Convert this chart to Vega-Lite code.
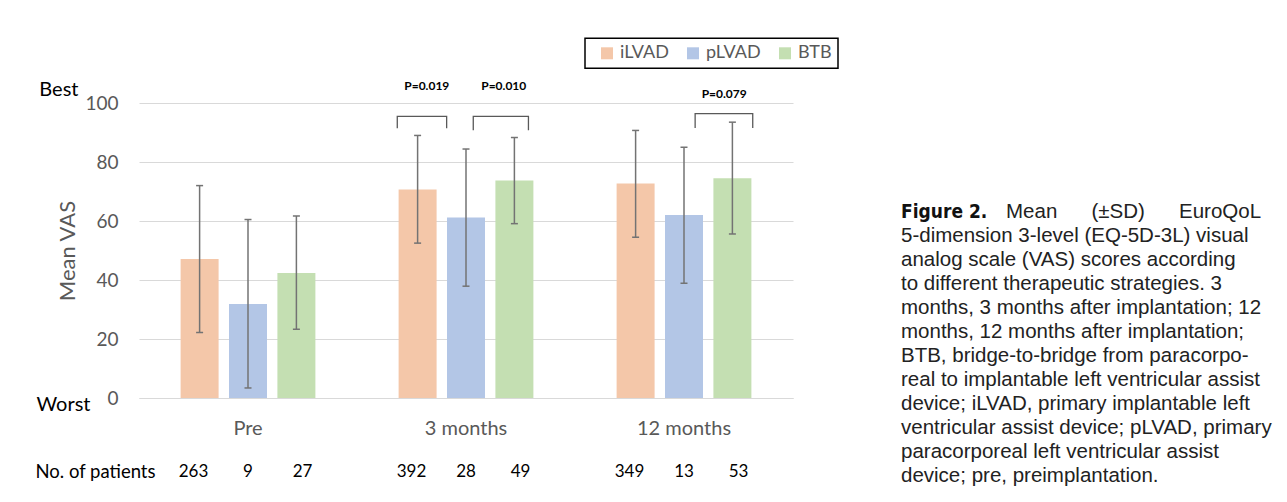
{
  "$schema": "https://vega.github.io/schema/vega-lite/v6.json",
  "padding": {"left": 34, "top": 37, "right": 5, "bottom": 5},
  "background": "white",
  "spacing": 108,
  "config": {
    "view": {"stroke": null},
    "font": "Lato",
    "axis": {"labelFont": "Lato", "titleFont": "Lato"},
    "legend": {"strokeWidth": 1.5}
  },
  "datasets": {
    "vas": [
      {"period": "Pre", "group": "iLVAD", "mean": 47.1, "lo": 22.2, "hi": 72.0, "n": "263"},
      {"period": "Pre", "group": "pLVAD", "mean": 31.9, "lo": 3.4, "hi": 60.5, "n": "9"},
      {"period": "Pre", "group": "BTB", "mean": 42.4, "lo": 23.3, "hi": 61.7, "n": "27"},
      {"period": "3 months", "group": "iLVAD", "mean": 70.7, "lo": 52.5, "hi": 89.0, "n": "392"},
      {"period": "3 months", "group": "pLVAD", "mean": 61.2, "lo": 37.9, "hi": 84.4, "n": "28"},
      {"period": "3 months", "group": "BTB", "mean": 73.7, "lo": 59.1, "hi": 88.3, "n": "49"},
      {"period": "12 months", "group": "iLVAD", "mean": 72.7, "lo": 54.5, "hi": 90.7, "n": "349"},
      {"period": "12 months", "group": "pLVAD", "mean": 62.0, "lo": 38.9, "hi": 85.0, "n": "13"},
      {"period": "12 months", "group": "BTB", "mean": 74.5, "lo": 55.6, "hi": 93.5, "n": "53"}
    ],
    "brackets": [
      {"id": "b1", "period": "3 months", "slot": 0.08, "y": 91.4, "k": 1},
      {"id": "b1", "period": "3 months", "slot": 0.08, "y": 95.5, "k": 2},
      {"id": "b1", "period": "3 months", "slot": 1.10, "y": 95.5, "k": 3},
      {"id": "b1", "period": "3 months", "slot": 1.10, "y": 91.4, "k": 4},
      {"id": "b2", "period": "3 months", "slot": 1.65, "y": 90.8, "k": 1},
      {"id": "b2", "period": "3 months", "slot": 1.65, "y": 95.5, "k": 2},
      {"id": "b2", "period": "3 months", "slot": 2.79, "y": 95.5, "k": 3},
      {"id": "b2", "period": "3 months", "slot": 2.79, "y": 90.8, "k": 4},
      {"id": "b3", "period": "12 months", "slot": 1.73, "y": 91.5, "k": 1},
      {"id": "b3", "period": "12 months", "slot": 1.73, "y": 96.4, "k": 2},
      {"id": "b3", "period": "12 months", "slot": 2.92, "y": 96.4, "k": 3},
      {"id": "b3", "period": "12 months", "slot": 2.92, "y": 91.5, "k": 4}
    ],
    "plabels": [
      {"period": "3 months", "slot": 0.69, "label": "P=0.019", "y": 105.9},
      {"period": "3 months", "slot": 2.28, "label": "P=0.010", "y": 105.9},
      {"period": "12 months", "slot": 2.33, "label": "P=0.079", "y": 103.1}
    ],
    "caption": [
      {"line": 2, "text": "5-dimension 3-level (EQ-5D-3L) visual"},
      {"line": 3, "text": "analog scale (VAS) scores according"},
      {"line": 4, "text": "to different therapeutic strategies. 3"},
      {"line": 5, "text": "months, 3 months after implantation; 12"},
      {"line": 6, "text": "months, 12 months after implantation;"},
      {"line": 7, "text": "BTB, bridge-to-bridge from paracorpo-"},
      {"line": 8, "text": "real to implantable left ventricular assist"},
      {"line": 9, "text": "device; iLVAD, primary implantable left"},
      {"line": 10, "text": "ventricular assist device; pLVAD, primary"},
      {"line": 11, "text": "paracorporeal left ventricular assist"},
      {"line": 12, "text": "device; pre, preimplantation."}
    ],
    "captionHead": [
      {"line": 1, "text": "Figure 2."}
    ],
    "captionHeadRest": [
      {"line": 1, "text": "Mean\u00a0\u00a0\u00a0\u00a0\u00a0\u00a0(±SD)\u00a0\u00a0\u00a0\u00a0\u00a0\u00a0EuroQoL"}
    ]
  },
  "hconcat": [
    {
      "width": 654,
      "height": 295,
      "layer": [
        {
          "layer": [
            {
              "data": {"name": "vas"},
              "mark": {"type": "bar"},
              "encoding": {
                "x": {
                  "field": "period", "type": "nominal", "sort": ["Pre", "3 months", "12 months"],
                  "scale": {"paddingInner": 0.334, "paddingOuter": 0.167},
                  "axis": {"title": null, "labelAngle": 0, "labelFontSize": 20, "labelColor": "#595959", "labelPadding": 20, "ticks": false, "domainColor": "#d9d9d9", "domainWidth": 1}
                },
                "xOffset": {
                  "field": "group", "type": "nominal", "sort": ["iLVAD", "pLVAD", "BTB"],
                  "scale": {"type": "band", "paddingInner": 0.215, "paddingOuter": 0.1075}
                },
                "y": {
                  "field": "mean", "type": "quantitative", "title": "Mean VAS",
                  "scale": {"domain": [0, 100], "nice": false},
                  "axis": {"orient": "left", "title": "Mean VAS", "values": [0, 20, 40, 60, 80, 100], "domain": false, "ticks": false, "grid": true, "gridColor": "#d9d9d9", "gridWidth": 1, "labelFontSize": 19, "labelColor": "#595959", "labelPadding": 21, "titleFontSize": 22, "titleColor": "#595959", "titleFontWeight": "normal", "titlePadding": 5}
                },
                "color": {
                  "field": "group", "type": "nominal",
                  "scale": {"domain": ["iLVAD", "pLVAD", "BTB"], "range": ["#F4C7A9", "#B3C6E6", "#C4DFB2"]},
                  "legend": {
                    "title": null, "orient": "none", "legendX": 446, "legendY": -64.7, "direction": "horizontal",
                    "strokeColor": "black", "padding": 6, "symbolType": "square", "symbolSize": 144,
                    "symbolStrokeWidth": 0, "symbolOffset": 7, "labelOffset": 4, "columnPadding": 8,
                    "labelFontSize": 18, "labelColor": "#595959", "labelFont": "Lato"
                  }
                }
              }
            },
            {
              "data": {"name": "vas"},
              "mark": {"type": "rule", "color": "#737373", "strokeWidth": 1.5},
              "encoding": {
                "x": {"field": "period", "type": "nominal", "sort": ["Pre", "3 months", "12 months"]},
                "xOffset": {"field": "group", "type": "nominal", "sort": ["iLVAD", "pLVAD", "BTB"], "scale": {"type": "band", "paddingInner": 0.215, "paddingOuter": 0.1075}},
                "y": {"field": "lo", "type": "quantitative", "title": "Mean VAS"},
                "y2": {"field": "hi"}
              }
            },
            {
              "data": {"name": "vas"},
              "mark": {"type": "point", "shape": "stroke", "size": 49, "color": "#737373", "strokeWidth": 1.5, "filled": false, "opacity": 1},
              "encoding": {
                "x": {"field": "period", "type": "nominal", "sort": ["Pre", "3 months", "12 months"]},
                "xOffset": {"field": "group", "type": "nominal", "sort": ["iLVAD", "pLVAD", "BTB"], "scale": {"type": "band", "paddingInner": 0.215, "paddingOuter": 0.1075}},
                "y": {"field": "lo", "type": "quantitative", "title": "Mean VAS"}
              }
            },
            {
              "data": {"name": "vas"},
              "mark": {"type": "point", "shape": "stroke", "size": 49, "color": "#737373", "strokeWidth": 1.5, "filled": false, "opacity": 1},
              "encoding": {
                "x": {"field": "period", "type": "nominal", "sort": ["Pre", "3 months", "12 months"]},
                "xOffset": {"field": "group", "type": "nominal", "sort": ["iLVAD", "pLVAD", "BTB"], "scale": {"type": "band", "paddingInner": 0.215, "paddingOuter": 0.1075}},
                "y": {"field": "hi", "type": "quantitative", "title": "Mean VAS"}
              }
            },
            {
              "layer": [
                {
                  "data": {"name": "brackets"},
                  "mark": {"type": "line", "color": "#595959", "strokeWidth": 1.3},
                  "encoding": {
                    "x": {"field": "period", "type": "nominal", "sort": ["Pre", "3 months", "12 months"]},
                    "xOffset": {"field": "slot", "type": "quantitative", "scale": {"domain": [0, 3], "range": [0, 145.2], "zero": false, "nice": false}},
                    "y": {"field": "y", "type": "quantitative", "title": "Mean VAS"},
                    "detail": {"field": "id"},
                    "order": {"field": "k", "type": "quantitative"}
                  }
                },
                {
                  "data": {"name": "plabels"},
                  "mark": {"type": "text", "fontWeight": "bold", "fontSize": 12, "color": "black", "font": "Lato"},
                  "encoding": {
                    "x": {"field": "period", "type": "nominal", "sort": ["Pre", "3 months", "12 months"]},
                    "xOffset": {"field": "slot", "type": "quantitative"},
                    "y": {"field": "y", "type": "quantitative", "title": "Mean VAS"},
                    "text": {"field": "label"}
                  }
                }
              ]
            }
          ],
          "resolve": {"scale": {"xOffset": "independent"}}
        },
        {
          "data": {"name": "vas"},
          "mark": {"type": "text", "fontSize": 17, "color": "black", "font": "Lato"},
          "encoding": {
            "x": {"field": "period", "type": "nominal", "sort": ["Pre", "3 months", "12 months"]},
            "xOffset": {"field": "group", "type": "nominal", "sort": ["iLVAD", "pLVAD", "BTB"], "scale": {"type": "point", "padding": 0.332}},
            "y": {
              "datum": -25, "type": "quantitative",
              "scale": {"domain": [-25, 100], "range": [368.75, 0], "nice": false, "zero": false},
              "axis": {
                "orient": "left", "title": null, "values": [100, 0, -25],
                "labelExpr": "datum.value == 100 ? 'Best' : (datum.value == 0 ? 'Worst' : 'No. of patients')",
                "domain": false, "ticks": false, "grid": false,
                "labelColor": "black", "labelFont": "Lato",
                "labelFontSize": {"condition": {"test": "datum.value == -25", "value": 18.5}, "value": 20},
                "labelAlign": "right", "labelFlush": false, "labelOverlap": false, "labelBound": false,
                "labelPadding": {"condition": [{"test": "datum.value == 100", "value": 61}, {"test": "datum.value == 0", "value": 49}], "value": -16},
                "labelOffset": {"condition": [{"test": "datum.value == 100", "value": -14}, {"test": "datum.value == 0", "value": 6}], "value": 0}
              }
            },
            "text": {"field": "n"}
          }
        }
      ],
      "resolve": {"scale": {"y": "independent", "xOffset": "independent"}, "axis": {"y": "independent"}}
    },
    {
      "width": 370,
      "height": 295,
      "layer": [
        {
          "data": {"name": "captionHead"},
          "mark": {"type": "text", "align": "left", "baseline": "middle", "font": "Liberation Sans Narrow, DejaVu Sans Condensed, Roboto Condensed, Liberation Sans", "fontWeight": "bold", "fontSize": 19, "color": "#111"},
          "encoding": {
            "x": {"datum": 0, "type": "quantitative", "scale": {"domain": [0, 370]}, "axis": null},
            "y": {"field": "line", "type": "quantitative", "scale": {"domain": [1, 12], "range": [109.3, 373.3]}, "axis": null},
            "text": {"field": "text"}
          }
        },
        {
          "data": {"name": "captionHeadRest"},
          "mark": {"type": "text", "align": "left", "baseline": "middle", "font": "Liberation Sans", "fontSize": 20.5, "color": "#222", "dx": 105},
          "encoding": {
            "x": {"datum": 0, "type": "quantitative", "scale": {"domain": [0, 370]}, "axis": null},
            "y": {"field": "line", "type": "quantitative", "scale": {"domain": [1, 12], "range": [109.3, 373.3]}, "axis": null},
            "text": {"field": "text"}
          }
        },
        {
          "data": {"name": "caption"},
          "mark": {"type": "text", "align": "left", "baseline": "middle", "font": "Liberation Sans", "fontSize": 20.5, "color": "#222"},
          "encoding": {
            "x": {"datum": 0, "type": "quantitative", "scale": {"domain": [0, 370]}, "axis": null},
            "y": {"field": "line", "type": "quantitative", "scale": {"domain": [1, 12], "range": [109.3, 373.3]}, "axis": null},
            "text": {"field": "text"}
          }
        }
      ]
    }
  ]
}
